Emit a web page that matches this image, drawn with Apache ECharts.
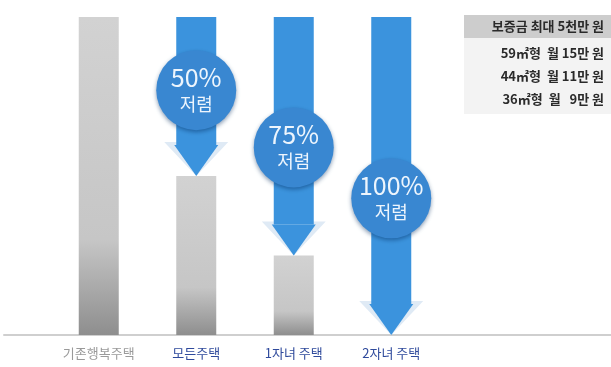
<!DOCTYPE html>
<html><head><meta charset="utf-8">
<script src="https://cdn.jsdelivr.net/npm/echarts@6/dist/echarts.min.js"></script>
<style>html,body{margin:0;padding:0;background:#fff}#c{width:611px;height:367px}</style>
</head><body><div id="c"></div>
<script>
var categories = ['기존행복주택', '모든주택', '1자녀 주택', '2자녀 주택'];
var rentLevel = [100, 50, 25, 0];          // remaining rent (% of existing)
var discountLabels = ['', '50%', '75%', '100%'];
var discountStart = [null, 100, 100, 100];
var circleLevel = [null, 77, 59, 43];
var tableHeader = '보증금 최대 5천만 원';
var tableRows = ['59㎡형  월 15만 원', '44㎡형  월 11만 원', '36㎡형  월   9만 원'];
var catColors = ['#9a9a9a', '#2f4a9c', '#2f4a9c', '#2f4a9c'];

var FONT = '"Noto Sans CJK KR", "Noto Sans", sans-serif';
var chart = echarts.init(document.getElementById('c'));

var arrowData = [];
for (var i = 0; i < categories.length; i++) {
  if (discountStart[i] != null) arrowData.push([i, discountStart[i], rentLevel[i], circleLevel[i], discountLabels[i]]);
}

var graphicRows = [
  {type: 'rect', shape: {x: 464, y: 38, width: 147, height: 76}, style: {fill: '#f3f3f3'}},
  {type: 'rect', shape: {x: 464, y: 15, width: 147, height: 23}, style: {fill: '#cdcdcd'}},
  {type: 'text', style: {text: tableHeader, x: 604, y: 26, align: 'right', verticalAlign: 'middle', font: 'bold 13px ' + FONT, fill: '#2a2a2a'}}
];
tableRows.forEach(function (t, k) {
  graphicRows.push({type: 'text', style: {text: t, x: 604, y: 53 + k * 23, align: 'right', verticalAlign: 'middle', font: 'bold 13px ' + FONT, fill: '#2a2a2a'}});
});

chart.setOption({
  animation: false,
  grid: [
    {left: 50, right: 171, top: 17, bottom: 32},
    {left: 4, right: 0, top: 17, bottom: 32}
  ],
  xAxis: [
    {type: 'category', data: categories, gridIndex: 0,
     axisLine: {show: false}, axisTick: {show: false},
     axisLabel: {interval: 0, margin: 12, fontSize: 13, fontFamily: FONT,
       formatter: function (v, idx) { return '{c' + idx + '|' + v + '}'; },
       rich: {c0: {color: catColors[0], fontSize: 13, fontFamily: FONT},
              c1: {color: catColors[1], fontSize: 13, fontFamily: FONT},
              c2: {color: catColors[2], fontSize: 13, fontFamily: FONT},
              c3: {color: catColors[3], fontSize: 13, fontFamily: FONT}}}},
    {type: 'value', gridIndex: 1, min: 0, max: 1, axisLabel: {show: false}, axisTick: {show: false},
     splitLine: {show: false}, axisLine: {show: true, lineStyle: {color: '#cfcfcf', width: 2}}}
  ],
  yAxis: [
    {type: 'value', min: 0, max: 100, gridIndex: 0, show: false},
    {type: 'value', min: 0, max: 100, gridIndex: 1, show: false}
  ],
  graphic: graphicRows,
  series: [
    {type: 'bar', data: rentLevel, barWidth: 40, xAxisIndex: 0, yAxisIndex: 0,
     itemStyle: {color: new echarts.graphic.LinearGradient(0, 0, 0, 1, [
       {offset: 0, color: '#d2d2d2'}, {offset: 0.7, color: '#c6c6c6'}, {offset: 1, color: '#8e8e8e'}])}},
    {type: 'custom', xAxisIndex: 0, yAxisIndex: 0, data: arrowData, z: 5,
     renderItem: function (params, api) {
       var idx = api.value(0);
       var top = api.coord([idx, api.value(1)]);
       var tip = api.coord([idx, api.value(2)]);
       var circ = api.coord([idx, api.value(3)]);
       var cx = top[0];
       var half = 20, headH = 31;
       var baseY = tip[1] - headH;
       return {type: 'group', children: [
         {type: 'polygon', shape: {points: [[cx - 32, tip[1] - 34], [cx + 32, tip[1] - 34], [cx, tip[1]]]},
          style: {fill: '#dfeaf5'}},
         {type: 'rect', shape: {x: cx - half, y: top[1], width: half * 2, height: baseY - top[1]},
          style: {fill: '#3b93dd'}},
         {type: 'polygon', shape: {points: [[cx - half - 2, baseY], [cx + half + 2, baseY], [cx, tip[1]]]},
          style: {fill: '#3b93dd'}},
         {type: 'circle', shape: {cx: cx, cy: circ[1], r: 40},
          style: {fill: '#3987d1', shadowBlur: 4, shadowOffsetY: 2, shadowColor: 'rgba(0,40,90,0.45)'}},
         {type: 'text', style: {text: api.value(4), x: cx, y: circ[1] - 13, align: 'center', verticalAlign: 'middle',
          font: '25px ' + FONT, fill: '#edf5fd'}},
         {type: 'text', style: {text: '저렴', x: cx, y: circ[1] + 14, align: 'center', verticalAlign: 'middle',
          font: '18px ' + FONT, fill: '#edf5fd'}}
       ]};
     }}
  ]
});
</script>
</body></html>
